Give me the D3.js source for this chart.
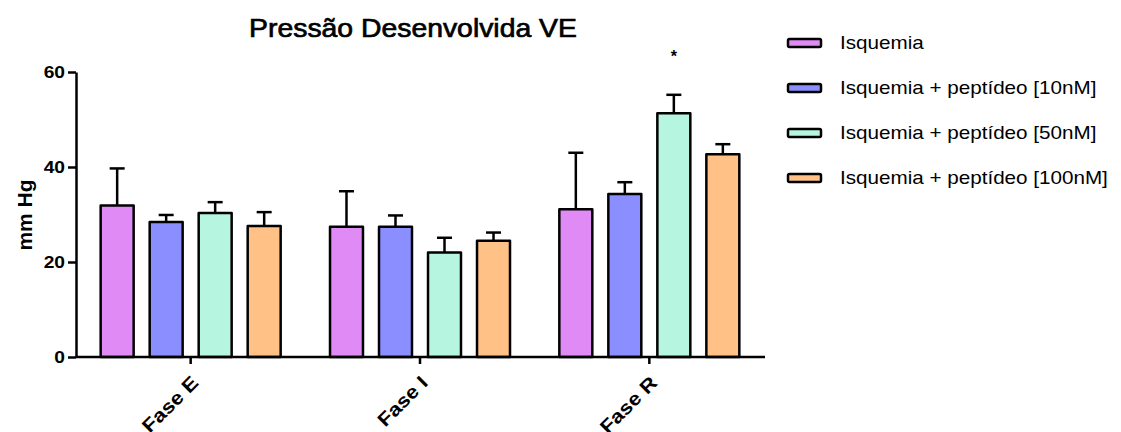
<!DOCTYPE html>
<html>
<head>
<title>Pressão Desenvolvida VE</title>
<style>
body { margin: 0; background: #fff; }
text { font-family: "Liberation Sans", Arial, sans-serif; fill: #000; }
.axis path, .axis line { stroke: #000; stroke-width: 2.5px; }
.axis text { font-weight: bold; }
</style>
</head>
<body>
<div id="chart"></div>
<script src="https://cdn.jsdelivr.net/npm/d3@7"></script>
<script>
    var dimensions = { width: 1121, height: 432 };

    var phases = ["Fase E", "Fase I", "Fase R"];
    var seriesNames = ["Isquemia", "Isquemia + peptídeo [10nM]", "Isquemia + peptídeo [50nM]", "Isquemia + peptídeo [100nM]"];
    var seriesColors = ["#df8af5", "#8b8eff", "#b6f6e0", "#ffc185"];
    // mean and SEM per series, one entry per phase
    var means = [
        [31.9, 27.4, 31.1],
        [28.4, 27.4, 34.3],
        [30.3, 22.0, 51.3],
        [27.6, 24.5, 42.7]
    ];
    var sems = [
        [7.8, 7.5, 11.9],
        [1.5, 2.4, 2.5],
        [2.3, 3.1, 3.9],
        [2.9, 1.7, 2.1]
    ];
    var yTicks = [0, 20, 40, 60];
    var marks = [{ phase: "Fase R", series: 2, label: "*" }];

    var svg = d3.select("#chart").append("svg")
        .attr("width", dimensions.width)
        .attr("height", dimensions.height);

    var x = d3.scaleBand().domain(phases).range([76, 764]);
    var xs = d3.scaleBand().domain(d3.range(seriesNames.length)).range([-90, 90]).paddingInner(0.327);
    var y = d3.scaleLinear().domain([0, 60]).range([357, 72]);

    function cx(d) { return x(d.phase) + x.bandwidth() / 2 + xs(d.series) + xs.bandwidth() / 2; }

    var data = [];
    seriesNames.forEach(function(s, si) {
        phases.forEach(function(p, pi) {
            data.push({ phase: p, series: si, mean: means[si][pi], sem: sems[si][pi] });
        });
    });

    // error bars (drawn first, only the upper half shows)
    var eb = svg.append("g").attr("class", "errors")
        .attr("stroke", "#000").attr("stroke-width", 2.5);
    eb.selectAll("line.v").data(data).enter().append("line")
        .attr("x1", cx)
        .attr("x2", cx)
        .attr("y1", function(d) { return y(d.mean); })
        .attr("y2", function(d) { return y(d.mean + d.sem); });
    eb.selectAll("line.cap").data(data).enter().append("line")
        .attr("x1", function(d) { return cx(d) - 7.5; })
        .attr("x2", function(d) { return cx(d) + 7.5; })
        .attr("y1", function(d) { return y(d.mean + d.sem); })
        .attr("y2", function(d) { return y(d.mean + d.sem); });

    svg.append("g").attr("class", "bars")
      .selectAll("rect").data(data).enter().append("rect")
        .attr("x", function(d) { return x(d.phase) + x.bandwidth() / 2 + xs(d.series); })
        .attr("y", function(d) { return y(d.mean); })
        .attr("width", xs.bandwidth())
        .attr("height", function(d) { return y(0) - y(d.mean); })
        .attr("fill", function(d) { return seriesColors[d.series]; })
        .attr("stroke", "#000")
        .attr("stroke-width", 2.5)
        .attr("stroke-linejoin", "round");

    // significance marks
    svg.append("g").selectAll("text").data(marks).enter().append("text")
        .attr("x", cx)
        .attr("y", function(d) {
            var pi = phases.indexOf(d.phase);
            return y(means[d.series][pi] + sems[d.series][pi]) - 33;
        })
        .attr("text-anchor", "middle")
        .style("font-size", "16px")
        .style("font-weight", "bold")
        .text(function(d) { return d.label; });

    // y axis
    var gy = svg.append("g").attr("class", "axis")
        .attr("transform", "translate(76,0)")
        .call(d3.axisLeft(y).tickValues(yTicks).tickSize(8).tickPadding(3).tickSizeOuter(0));
    gy.selectAll("text")
        .style("font-size", "16px")
        .attr("dy", "0.35em")
        .attr("transform", "translate(-11,0) scale(1.2,1) translate(11,0)");

    // x axis
    var gx = svg.append("g").attr("class", "axis")
        .attr("transform", "translate(0," + y(0) + ")")
        .call(d3.axisBottom(x).tickSize(7).tickSizeOuter(0));
    gx.select("path").attr("d", "M76,0H765");
    gx.selectAll("text")
        .style("font-size", "19px")
        .attr("text-anchor", "end")
        .attr("y", 0)
        .attr("dy", 0)
        .attr("transform", "translate(9,27) rotate(-45) scale(1.15,1)");

    svg.append("text")
        .attr("transform", "translate(32,215) rotate(-90)")
        .attr("text-anchor", "middle")
        .style("font-size", "21px")
        .style("font-weight", "bold")
        .text("mm Hg");

    svg.append("text")
        .attr("transform", "translate(413,37) scale(1.07,1)")
        .attr("text-anchor", "middle")
        .style("font-size", "26.5px")
        .style("stroke", "#000")
        .style("stroke-width", "0.7px")
        .text("Pressão Desenvolvida VE");

    // legend
    var lg = svg.append("g").attr("class", "legend");
    var items = lg.selectAll("g").data(seriesNames).enter().append("g")
        .attr("transform", function(d, i) { return "translate(788," + (43 + i * 45) + ")"; });
    items.append("rect")
        .attr("x", 0).attr("y", -4)
        .attr("width", 33).attr("height", 8)
        .attr("rx", 1.5)
        .attr("fill", function(d, i) { return seriesColors[i]; })
        .attr("stroke", "#000")
        .attr("stroke-width", 2.5);
    items.append("text")
        .attr("transform", "translate(52,6) scale(1.18,1)")
        .style("font-size", "17.5px")
        .text(function(d) { return d; });
</script>
</body>
</html>
